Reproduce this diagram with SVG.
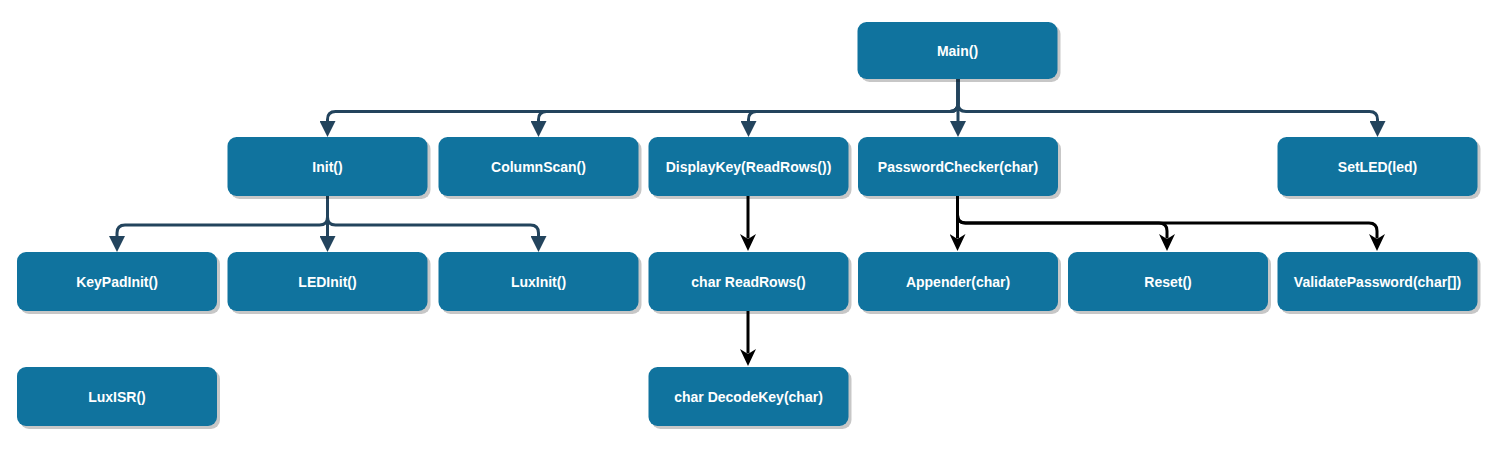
<svg xmlns="http://www.w3.org/2000/svg" width="1499" height="451" viewBox="0 0 1499 451">
<style>
.sh{fill:#000;fill-opacity:0.22}
.bx{fill:#10739E}
.t{font-family:"Liberation Sans",Arial,sans-serif;font-size:14px;font-weight:bold;fill:#FFFFFF;text-anchor:middle}
.nv{fill:none;stroke:#23445D;stroke-width:3}
.bk{fill:none;stroke:#000000;stroke-width:3}
</style>
<defs>
<marker id="blk" markerUnits="userSpaceOnUse" viewBox="0 0 16 16" refX="0" refY="8" markerWidth="16" markerHeight="16" orient="auto">
<path d="M0,0 L16,8 L0,16 Z" fill="#23445D"/>
</marker>
<marker id="cls" markerUnits="userSpaceOnUse" viewBox="0 0 17 16" refX="4.5" refY="8" markerWidth="17" markerHeight="16" orient="auto">
<path d="M0,0 L17,8 L0,16 L5,8 Z" fill="#000000"/>
</marker>
</defs>
<g id="connectors">
<path class="nv" marker-end="url(#blk)" d="M958,79 V103.5 Q958,111.5 950,111.5 H335.5 Q327.5,111.5 327.5,119.5 V121"/>
<path class="nv" marker-end="url(#blk)" d="M958,79 V103.5 Q958,111.5 950,111.5 H546.5 Q538.5,111.5 538.5,119.5 V121"/>
<path class="nv" marker-end="url(#blk)" d="M958,79 V103.5 Q958,111.5 950,111.5 H756.5 Q748.5,111.5 748.5,119.5 V121"/>
<path class="nv" marker-end="url(#blk)" d="M958,79 V121"/>
<path class="nv" marker-end="url(#blk)" d="M958,79 V103.5 Q958,111.5 966,111.5 H1369.5 Q1377.5,111.5 1377.5,119.5 V121"/>
<path class="nv" marker-end="url(#blk)" d="M327.5,196 V217 Q327.5,225 319.5,225 H125 Q117,225 117,233 V236"/>
<path class="nv" marker-end="url(#blk)" d="M327.5,196 V236"/>
<path class="nv" marker-end="url(#blk)" d="M327.5,196 V217 Q327.5,225 335.5,225 H530.5 Q538.5,225 538.5,233 V236"/>
<path class="bk" marker-end="url(#cls)" d="M748,196 V238.5"/>
<path class="bk" marker-end="url(#cls)" d="M748,311 V353.5"/>
<path class="bk" marker-end="url(#cls)" d="M957.5,196 V238.5"/>
<path class="bk" marker-end="url(#cls)" d="M957.5,196 V215 Q957.5,223 965.5,223 H1159 Q1167,223 1167,231 V238.5"/>
<path class="bk" marker-end="url(#cls)" d="M957.5,196 V215 Q957.5,223 965.5,223 H1369 Q1377,223 1377,231 V238.5"/>
</g>
<g id="main"><rect class="sh" x="860.5" y="25" width="200" height="57" rx="9"/><rect class="bx" x="857.5" y="22" width="200" height="57" rx="9"/><text class="t" x="957.5" y="55.5">Main()</text></g>
<g id="init"><rect class="sh" x="230.5" y="140" width="200" height="59" rx="9"/><rect class="bx" x="227.5" y="137" width="200" height="59" rx="9"/><text class="t" x="327.5" y="172">Init()</text></g>
<g id="columnscan"><rect class="sh" x="441.5" y="140" width="200" height="59" rx="9"/><rect class="bx" x="438.5" y="137" width="200" height="59" rx="9"/><text class="t" x="538.5" y="172">ColumnScan()</text></g>
<g id="displaykey"><rect class="sh" x="651.5" y="140" width="200" height="59" rx="9"/><rect class="bx" x="648.5" y="137" width="200" height="59" rx="9"/><text class="t" x="748.5" y="172">DisplayKey(ReadRows())</text></g>
<g id="passwordchecker"><rect class="sh" x="861" y="140" width="200" height="59" rx="9"/><rect class="bx" x="858" y="137" width="200" height="59" rx="9"/><text class="t" x="958" y="172">PasswordChecker(char)</text></g>
<g id="setled"><rect class="sh" x="1280.5" y="140" width="200" height="59" rx="9"/><rect class="bx" x="1277.5" y="137" width="200" height="59" rx="9"/><text class="t" x="1377.5" y="172">SetLED(led)</text></g>
<g id="keypadinit"><rect class="sh" x="20" y="255" width="200" height="59" rx="9"/><rect class="bx" x="17" y="252" width="200" height="59" rx="9"/><text class="t" x="117" y="287">KeyPadInit()</text></g>
<g id="ledinit"><rect class="sh" x="230.5" y="255" width="200" height="59" rx="9"/><rect class="bx" x="227.5" y="252" width="200" height="59" rx="9"/><text class="t" x="327.5" y="287">LEDInit()</text></g>
<g id="luxinit"><rect class="sh" x="441.5" y="255" width="200" height="59" rx="9"/><rect class="bx" x="438.5" y="252" width="200" height="59" rx="9"/><text class="t" x="538.5" y="287">LuxInit()</text></g>
<g id="readrows"><rect class="sh" x="651.5" y="255" width="200" height="59" rx="9"/><rect class="bx" x="648.5" y="252" width="200" height="59" rx="9"/><text class="t" x="748.5" y="287">char ReadRows()</text></g>
<g id="appender"><rect class="sh" x="861" y="255" width="200" height="59" rx="9"/><rect class="bx" x="858" y="252" width="200" height="59" rx="9"/><text class="t" x="958" y="287">Appender(char)</text></g>
<g id="reset"><rect class="sh" x="1071" y="255" width="200" height="59" rx="9"/><rect class="bx" x="1068" y="252" width="200" height="59" rx="9"/><text class="t" x="1168" y="287">Reset()</text></g>
<g id="validatepassword"><rect class="sh" x="1280.5" y="255" width="200" height="59" rx="9"/><rect class="bx" x="1277.5" y="252" width="200" height="59" rx="9"/><text class="t" x="1377.5" y="287">ValidatePassword(char[])</text></g>
<g id="luxisr"><rect class="sh" x="20" y="370" width="200" height="59" rx="9"/><rect class="bx" x="17" y="367" width="200" height="59" rx="9"/><text class="t" x="117" y="402">LuxISR()</text></g>
<g id="decodekey"><rect class="sh" x="651.5" y="370" width="200" height="59" rx="9"/><rect class="bx" x="648.5" y="367" width="200" height="59" rx="9"/><text class="t" x="748.5" y="402">char DecodeKey(char)</text></g>
</svg>
